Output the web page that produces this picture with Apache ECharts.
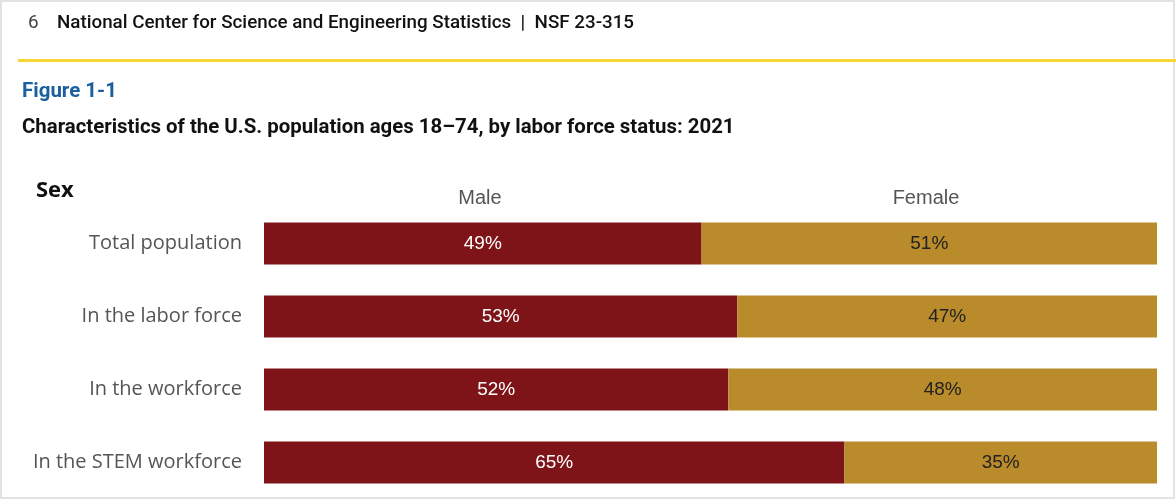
<!DOCTYPE html>
<html><head><meta charset="utf-8">
<script src="https://cdn.jsdelivr.net/npm/echarts@6/dist/echarts.min.js"></script>
<style>html,body{margin:0;padding:0;background:#fff}#c{width:1176px;height:500px}</style>
</head><body><div id="c"></div>
<script>
const categories = ['Total population', 'In the labor force', 'In the workforce', 'In the STEM workforce'];
const male = [49, 53, 52, 65];
const female = [51, 47, 48, 35];
const seriesNames = ['Male', 'Female'];

const chart = echarts.init(document.getElementById('c'));
chart.setOption({
  animation: false,
  grid: { left: 264, right: 19, top: 207, bottom: 1 },
  xAxis: { type: 'value', min: 0, max: 100, show: false },
  yAxis: {
    type: 'category', data: categories, inverse: true,
    axisLine: { show: false }, axisTick: { show: false },
    axisLabel: { color: '#555', fontSize: 20, fontFamily: 'Open Sans', margin: 22 }
  },
  series: [
    { name: seriesNames[0], type: 'bar', stack: 's', data: male, barWidth: 42,
      itemStyle: { color: '#7f1418' },
      label: { show: true, position: 'inside', formatter: '{c}%', color: '#fff', fontSize: 19, fontFamily: 'Liberation Sans' } },
    { name: seriesNames[1], type: 'bar', stack: 's', data: female, barWidth: 42,
      itemStyle: { color: '#b98b2a' },
      label: { show: true, position: 'inside', formatter: '{c}%', color: '#222', fontSize: 19, fontFamily: 'Liberation Sans' } }
  ],
  graphic: [
    { type: 'rect', shape: { x: 1, y: 1, width: 1173, height: 497 }, style: { fill: 'none', stroke: '#e2e2e2', lineWidth: 2 }, silent: true },
    { type: 'rect', shape: { x: 18, y: 59, width: 1158, height: 3 }, style: { fill: '#fcd535' } },
    { type: 'text', left: 28, top: 14, style: { text: '6', fill: '#444', font: '18.8px Roboto' } },
    { type: 'text', left: 57, top: 14, style: { text: 'National Center for Science and Engineering Statistics  |  NSF 23-315', fill: '#111', font: '500 18.8px Roboto' } },
    { type: 'text', left: 22, top: 81, style: { text: 'Figure 1-1', fill: '#1a5f9e', font: 'bold 20.5px Roboto' } },
    { type: 'text', left: 22, top: 118, style: { text: 'Characteristics of the U.S. population ages 18\u201374, by labor force status: 2021', fill: '#111', font: 'bold 20.4px Roboto' } },
    { type: 'text', left: 36, top: 180, style: { text: 'Sex', fill: '#111', font: 'bold 22px "Open Sans"' } },
    { type: 'text', x: 480, y: 198, style: { text: seriesNames[0], fill: '#555', font: '20px "Liberation Sans"', align: 'center', verticalAlign: 'middle' } },
    { type: 'text', x: 926, y: 198, style: { text: seriesNames[1], fill: '#555', font: '20px "Liberation Sans"', align: 'center', verticalAlign: 'middle' } }
  ]
});
</script></body></html>
